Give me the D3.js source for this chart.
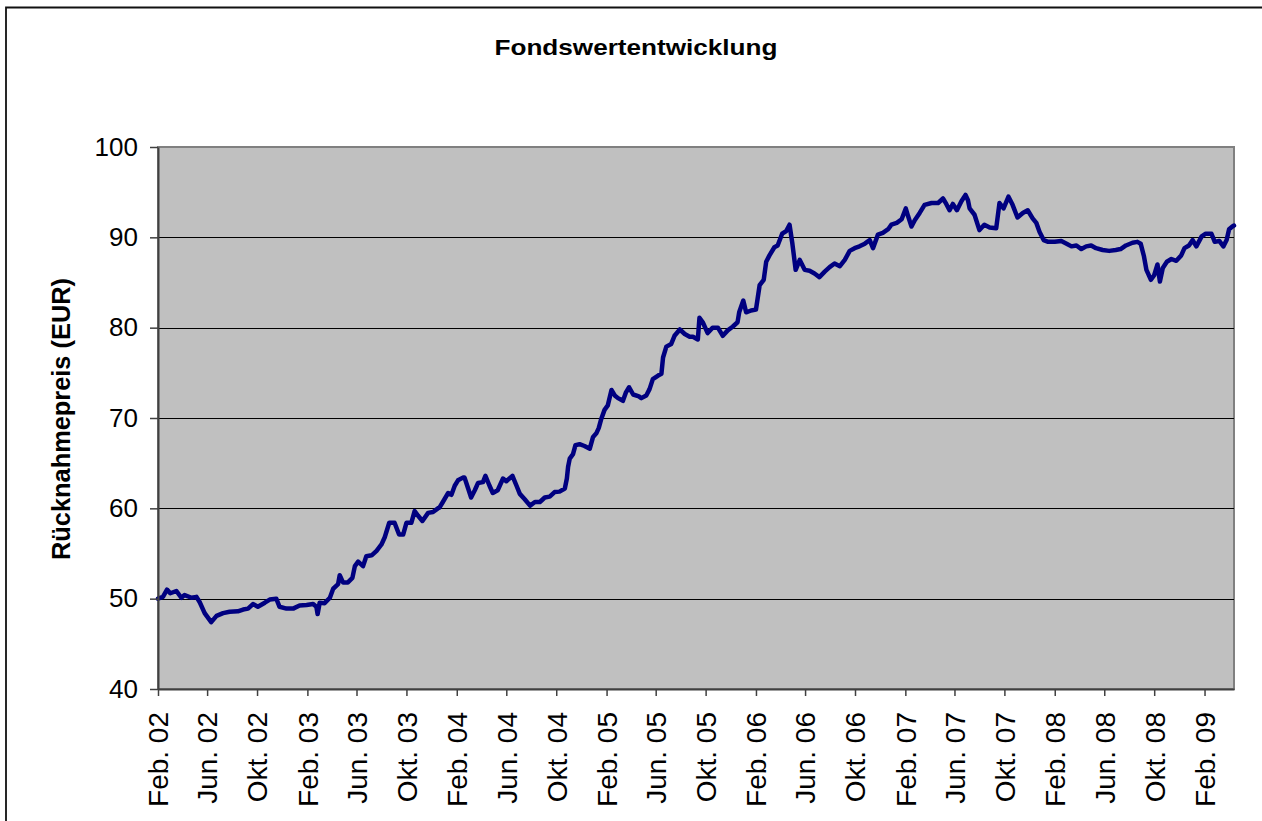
<!DOCTYPE html>
<html>
<head>
<meta charset="utf-8">
<script src="https://cdn.jsdelivr.net/npm/d3@7"></script>
<style>
  body { margin: 0; background: #fff; overflow: hidden; }
  svg { display: block; font-family: Arial, 'Liberation Sans', sans-serif; }
</style>
</head>
<body>
<svg id="chart" width="1262" height="821"></svg>
<script>
const title = 'Fondswertentwicklung';
const yTitle = 'Rücknahmepreis (EUR)';

const yTicks = [40, 50, 60, 70, 80, 90, 100];
const tickLabels = [
  'Feb. 02', 'Jun. 02', 'Okt. 02', 'Feb. 03', 'Jun. 03', 'Okt. 03',
  'Feb. 04', 'Jun. 04', 'Okt. 04', 'Feb. 05', 'Jun. 05', 'Okt. 05',
  'Feb. 06', 'Jun. 06', 'Okt. 06', 'Feb. 07', 'Jun. 07', 'Okt. 07',
  'Feb. 08', 'Jun. 08', 'Okt. 08', 'Feb. 09',
];
const period = ['2002-02-01', '2009-04-14'];

const dates = [
  '2002-02-01', '2002-02-13', '2002-02-23', '2002-03-03', '2002-03-18', '2002-03-30',
  '2002-04-07', '2002-04-24', '2002-05-06', '2002-05-14', '2002-05-26', '2002-06-11',
  '2002-06-24', '2002-07-10', '2002-07-26', '2002-08-15', '2002-08-28', '2002-09-09',
  '2002-09-21', '2002-10-03', '2002-10-20', '2002-11-01', '2002-11-17', '2002-11-25',
  '2002-12-12', '2002-12-28', '2003-01-13', '2003-01-30', '2003-02-15', '2003-02-23',
  '2003-02-26', '2003-03-03', '2003-03-15', '2003-03-28', '2003-04-05', '2003-04-17',
  '2003-04-21', '2003-04-29', '2003-05-11', '2003-05-22', '2003-05-28', '2003-06-05',
  '2003-06-17', '2003-06-25', '2003-07-08', '2003-07-20', '2003-08-01', '2003-08-09',
  '2003-08-20', '2003-09-02', '2003-09-13', '2003-09-23', '2003-10-01', '2003-10-13',
  '2003-10-21', '2003-10-29', '2003-11-09', '2003-11-23', '2003-12-05', '2003-12-17',
  '2003-12-21', '2003-12-29', '2004-01-11', '2004-01-19', '2004-01-27', '2004-02-04',
  '2004-02-16', '2004-02-20', '2004-02-28', '2004-03-07', '2004-03-16', '2004-03-24',
  '2004-04-05', '2004-04-11', '2004-04-21', '2004-04-29', '2004-05-11', '2004-05-24',
  '2004-06-01', '2004-06-16', '2004-06-26', '2004-07-04', '2004-07-16', '2004-07-29',
  '2004-08-10', '2004-08-22', '2004-09-03', '2004-09-15', '2004-09-27', '2004-10-09',
  '2004-10-22', '2004-10-27', '2004-10-30', '2004-11-03', '2004-11-11', '2004-11-17',
  '2004-11-27', '2004-12-09', '2004-12-22', '2004-12-30', '2005-01-07', '2005-01-13',
  '2005-01-19', '2005-01-27', '2005-02-04', '2005-02-13', '2005-02-21', '2005-03-01',
  '2005-03-13', '2005-03-20', '2005-03-28', '2005-04-07', '2005-04-21', '2005-04-27',
  '2005-05-09', '2005-05-17', '2005-05-25', '2005-06-07', '2005-06-15', '2005-06-19',
  '2005-06-27', '2005-07-09', '2005-07-17', '2005-07-30', '2005-08-11', '2005-08-23',
  '2005-08-31', '2005-09-12', '2005-09-16', '2005-09-24', '2005-10-06', '2005-10-18',
  '2005-10-31', '2005-11-12', '2005-11-24', '2005-12-06', '2005-12-18', '2005-12-22',
  '2006-01-01', '2006-01-08', '2006-01-20', '2006-02-01', '2006-02-10', '2006-02-20',
  '2006-02-26', '2006-03-06', '2006-03-18', '2006-03-26', '2006-04-06', '2006-04-16',
  '2006-04-24', '2006-05-01', '2006-05-09', '2006-05-19', '2006-05-31', '2006-06-12',
  '2006-06-24', '2006-07-06', '2006-07-19', '2006-07-31', '2006-08-12', '2006-08-25',
  '2006-09-06', '2006-09-18', '2006-09-30', '2006-10-12', '2006-10-25', '2006-11-06',
  '2006-11-14', '2006-11-26', '2006-12-08', '2006-12-21', '2006-12-29', '2007-01-11',
  '2007-01-23', '2007-02-02', '2007-02-08', '2007-02-16', '2007-02-24', '2007-03-08',
  '2007-03-20', '2007-04-06', '2007-04-22', '2007-05-04', '2007-05-12', '2007-05-20',
  '2007-05-28', '2007-06-07', '2007-06-18', '2007-06-28', '2007-07-04', '2007-07-08',
  '2007-07-20', '2007-08-01', '2007-08-13', '2007-08-26', '2007-09-11', '2007-09-19',
  '2007-09-29', '2007-10-11', '2007-10-21', '2007-11-02', '2007-11-15', '2007-11-27',
  '2007-12-09', '2007-12-18', '2007-12-26', '2008-01-05', '2008-01-16', '2008-02-01',
  '2008-02-17', '2008-03-01', '2008-03-13', '2008-03-25', '2008-04-06', '2008-04-18',
  '2008-04-30', '2008-05-12', '2008-05-28', '2008-06-13', '2008-06-29', '2008-07-11',
  '2008-07-24', '2008-08-09', '2008-08-21', '2008-08-29', '2008-09-06', '2008-09-12',
  '2008-09-23', '2008-10-01', '2008-10-09', '2008-10-15', '2008-10-22', '2008-11-01',
  '2008-11-12', '2008-11-24', '2008-12-06', '2008-12-14', '2008-12-25', '2009-01-03',
  '2009-01-12', '2009-01-25', '2009-02-04', '2009-02-18', '2009-02-26', '2009-03-09',
  '2009-03-19', '2009-03-27', '2009-04-02', '2009-04-10', '2009-04-14',
];

const prices = [
  50.0, 50.2, 51.0, 50.6, 50.85, 50.1,
  50.4, 50.1, 50.2, 49.6, 48.4, 47.4,
  48.1, 48.4, 48.55, 48.6, 48.8, 48.9,
  49.4, 49.1, 49.55, 49.9, 50.0, 49.1,
  48.9, 48.9, 49.25, 49.3, 49.4, 49.1,
  48.3, 49.55, 49.5, 50.1, 51.1, 51.6,
  52.6, 51.8, 51.8, 52.3, 53.6, 54.1,
  53.6, 54.7, 54.8, 55.3, 56.0, 56.8,
  58.4, 58.4, 57.1, 57.1, 58.4, 58.4,
  59.7, 59.2, 58.6, 59.5, 59.6, 60.0,
  60.1, 60.7, 61.7, 61.5, 62.5, 63.1,
  63.4, 63.4, 62.3, 61.2, 62.0, 62.8,
  62.9, 63.6, 62.5, 61.7, 62.0, 63.3,
  63.0, 63.6, 62.5, 61.6, 61.0, 60.3,
  60.7, 60.7, 61.2, 61.3, 61.8, 61.85,
  62.2, 63.3, 64.6, 65.5, 66.0, 67.0,
  67.1, 66.9, 66.6, 67.9, 68.3, 68.9,
  69.9, 70.9, 71.4, 73.1, 72.5, 72.2,
  71.9, 72.8, 73.4, 72.6, 72.4, 72.2,
  72.5, 73.2, 74.3, 74.7, 74.9, 76.7,
  77.9, 78.2, 79.1, 79.8, 79.3, 79.0,
  79.0, 78.7, 81.1, 80.6, 79.4, 80.0,
  80.0, 79.1, 79.7, 80.1, 80.6, 81.7,
  83.0, 81.7, 81.9, 82.0, 84.7, 85.3,
  87.3, 88.0, 88.9, 89.1, 90.4, 90.7,
  91.4, 89.3, 86.4, 87.5, 86.4, 86.3,
  86.0, 85.6, 86.2, 86.7, 87.1, 86.8,
  87.5, 88.5, 88.8, 89.0, 89.3, 89.7,
  88.8, 90.3, 90.5, 90.9, 91.4, 91.6,
  92.0, 93.2, 92.3, 91.2, 91.9, 92.7,
  93.6, 93.8, 93.8, 94.3, 93.7, 93.0,
  93.7, 93.0, 94.0, 94.7, 94.1, 93.2,
  92.5, 90.8, 91.4, 91.1, 91.0, 93.8,
  93.2, 94.5, 93.6, 92.2, 92.7, 93.0,
  92.1, 91.6, 90.6, 89.7, 89.5, 89.5,
  89.6, 89.3, 89.0, 89.1, 88.7, 89.0,
  89.1, 88.8, 88.6, 88.5, 88.6, 88.7,
  89.1, 89.4, 89.5, 89.3, 87.9, 86.4,
  85.3, 85.8, 87.0, 85.1, 86.6, 87.3,
  87.6, 87.4, 88.0, 88.8, 89.1, 89.7,
  89.0, 90.1, 90.4, 90.4, 89.5, 89.6,
  89.0, 89.7, 90.9, 91.2, 91.3,
];

const parse = d3.timeParse('%Y-%m-%d');
const series = dates.map((d, i) => ({ date: parse(d), value: prices[i] }));

const svg = d3.select('#chart');
const plot = { left: 158, top: 147, right: 1234, bottom: 689 };

// outer chart frame: only its top and left edges are inside the picture
svg.append('path')
  .attr('d', 'M6,821V7.5H1262')
  .attr('fill', 'none')
  .attr('stroke', '#111')
  .attr('stroke-width', 1.8);

const x = d3.scaleTime()
  .domain(period.map(parse))
  .range([plot.left, plot.right]);

const y = d3.scaleLinear()
  .domain([40, 100])
  .range([plot.bottom, plot.top]);

svg.append('rect')
  .attr('x', plot.left).attr('y', plot.top)
  .attr('width', plot.right - plot.left)
  .attr('height', plot.bottom - plot.top)
  .attr('fill', '#c0c0c0')
  .attr('stroke', '#808080')
  .attr('stroke-width', 2);

// horizontal grid
svg.append('g')
  .selectAll('line')
  .data(yTicks.filter((v) => v > 40 && v < 100))
  .join('line')
  .attr('x1', plot.left).attr('x2', plot.right)
  .attr('y1', (d) => Math.round(y(d)) + 0.5)
  .attr('y2', (d) => Math.round(y(d)) + 0.5)
  .attr('stroke', '#000')
  .attr('stroke-width', 1);

const line = d3.line()
  .x((d) => x(d.date))
  .y((d) => y(d.value));

svg.append('path')
  .datum(series)
  .attr('d', line)
  .attr('fill', 'none')
  .attr('stroke', '#000080')
  .attr('stroke-width', 4.5)
  .attr('stroke-linejoin', 'round')
  .attr('stroke-linecap', 'round');

// y axis
const yAxis = svg.append('g')
  .attr('transform', `translate(${plot.left},0)`)
  .call(d3.axisLeft(y).tickValues(yTicks).tickSize(8).tickSizeOuter(0).tickPadding(12));

yAxis.select('.domain').attr('stroke', '#404040').attr('stroke-width', 2);
yAxis.selectAll('.tick line').attr('stroke', '#404040').attr('stroke-width', 1.5);
yAxis.selectAll('.tick text')
  .attr('fill', '#000')
  .style('font-size', '26px');

// x axis, four-monthly ticks
const xTicks = d3.timeMonth.range(parse(period[0]), d3.timeDay.offset(parse(period[1]), 1), 4);

const xAxis = svg.append('g')
  .attr('transform', `translate(0,${plot.bottom})`)
  .call(d3.axisBottom(x)
    .tickValues(xTicks)
    .tickFormat((d, i) => tickLabels[i])
    .tickSize(7)
    .tickSizeOuter(0));

xAxis.select('.domain').attr('stroke', '#404040').attr('stroke-width', 2);
xAxis.selectAll('.tick line').attr('stroke', '#404040').attr('stroke-width', 1.5);
xAxis.selectAll('.tick text')
  .attr('fill', '#000')
  .attr('text-anchor', 'end')
  .attr('transform', 'translate(0,23) rotate(-90)')
  .attr('x', 0).attr('y', 0)
  .attr('dy', '0.35em')
  .style('font-size', '28px');

svg.append('text')
  .attr('x', 636).attr('y', 55)
  .attr('text-anchor', 'middle')
  .attr('textLength', 283)
  .attr('lengthAdjust', 'spacingAndGlyphs')
  .style('font-size', '22px')
  .style('font-weight', 'bold')
  .text(title);

svg.append('text')
  .attr('transform', 'translate(70,419) rotate(-90)')
  .attr('text-anchor', 'middle')
  .attr('textLength', 282)
  .attr('lengthAdjust', 'spacingAndGlyphs')
  .style('font-size', '25px')
  .style('font-weight', 'bold')
  .text(yTitle);
</script>
</body>
</html>
